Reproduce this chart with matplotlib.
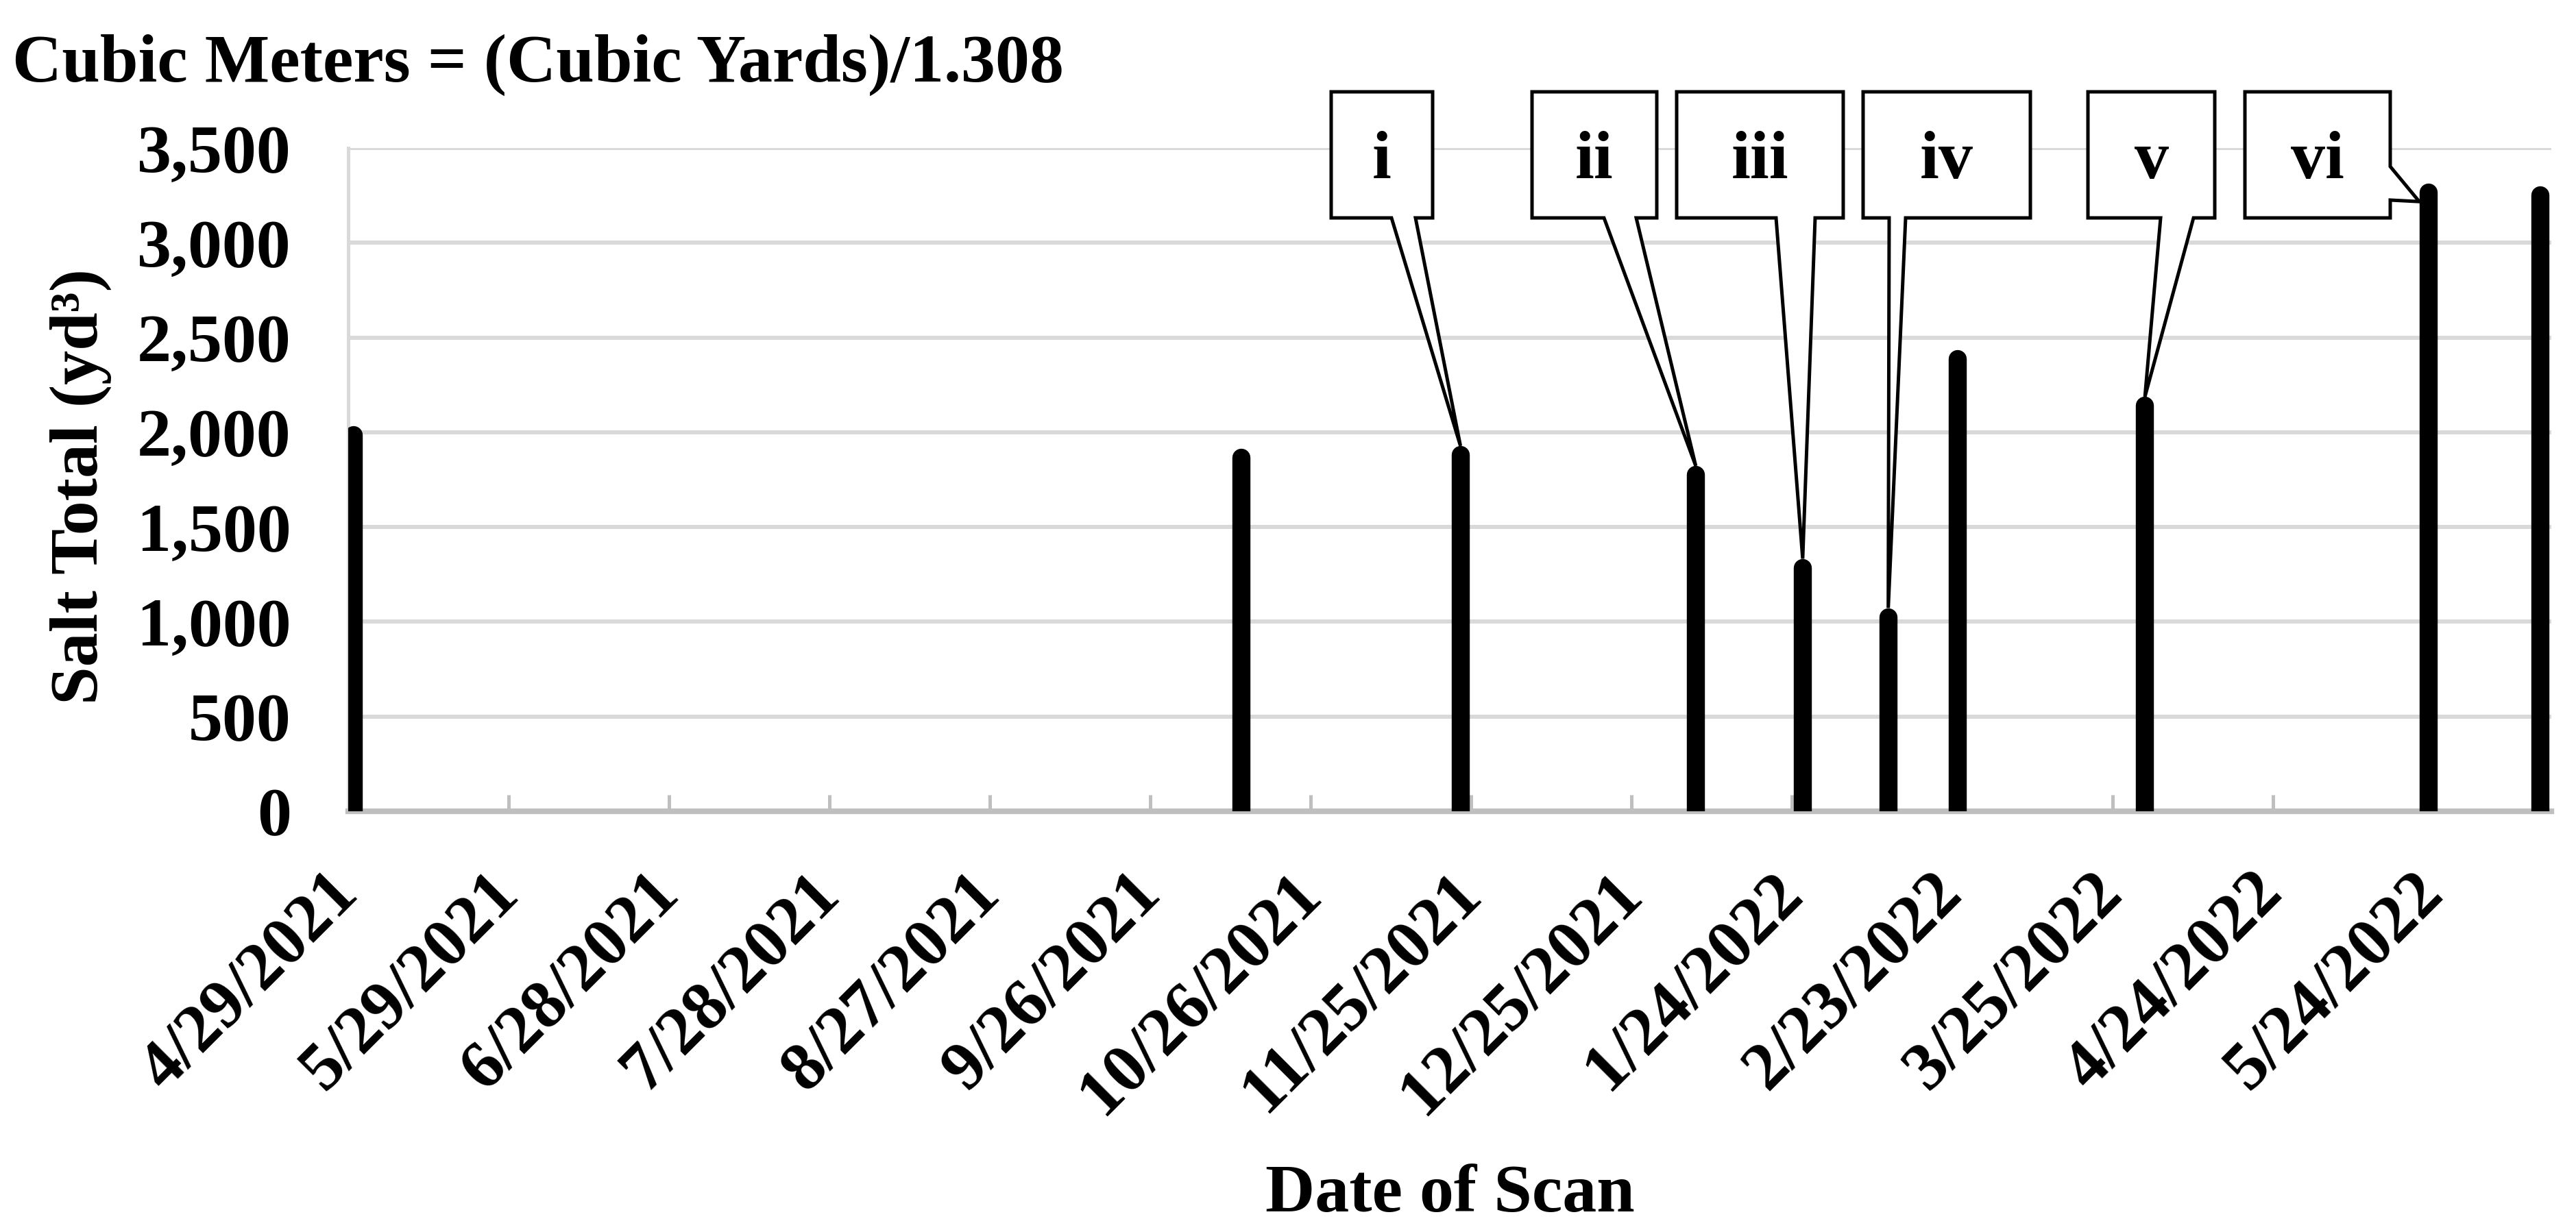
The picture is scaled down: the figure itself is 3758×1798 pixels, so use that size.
import datetime as dt
import matplotlib
matplotlib.use("Agg")
import matplotlib.pyplot as plt
import matplotlib.dates as mdates
from matplotlib.patches import Polygon
from matplotlib.transforms import IdentityTransform

plt.rcParams['font.family'] = ['Liberation Serif', 'DejaVu Serif']
plt.rcParams['font.weight'] = 'bold'

# data
scan_dates = ["2021-04-30", "2021-10-13", "2021-11-23", "2022-01-06", "2022-01-26",
              "2022-02-11", "2022-02-24", "2022-03-31", "2022-05-23", "2022-06-13"]
salt_yd3 = [1985, 1865, 1880, 1775, 1285, 1025, 2385, 2140, 3265, 3250]

tick_dates = ["2021-04-29", "2021-05-29", "2021-06-28", "2021-07-28", "2021-08-27",
              "2021-09-26", "2021-10-26", "2021-11-25", "2021-12-25", "2022-01-24",
              "2022-02-23", "2022-03-25", "2022-04-24", "2022-05-24"]
tick_labels = ["4/29/2021", "5/29/2021", "6/28/2021", "7/28/2021", "8/27/2021",
               "9/26/2021", "10/26/2021", "11/25/2021", "12/25/2021", "1/24/2022",
               "2/23/2022", "3/25/2022", "4/24/2022", "5/24/2022"]
y_ticks = [0, 500, 1000, 1500, 2000, 2500, 3000, 3500]

callout_labels = ["i", "ii", "iii", "iv", "v", "vi"]
callout_targets = ["2021-11-23", "2022-01-06", "2022-01-26", "2022-02-11",
                   "2022-03-31", "2022-05-23"]

# callout box layout, pixels from the top-left corner
box_x = [(1942, 2090), (2235, 2417), (2446, 2689), (2718, 2962), (3046, 3231), (3275, 3487)]
box_y = (134, 318)
wedge_base = [(2030, 2065), (2340, 2387), (2591, 2648), (2756, 2780), (3152, 3200), (243, 292)]
wedge_side = ["bottom", "bottom", "bottom", "bottom", "bottom", "right"]

W, H, DPI = 3758, 1798, 100
FS = 72
BAR_LW = 19

to_date = lambda s: dt.datetime.strptime(s, "%Y-%m-%d")

fig = plt.figure(figsize=(W / DPI, H / DPI), dpi=DPI)
ax = fig.add_axes([508 / W, (H - 1184) / H, (3722 - 508) / W, (1184 - 216) / H])

x = [to_date(d) for d in scan_dates]
bars = ax.vlines(x, 0, salt_yd3, colors='black', linewidth=BAR_LW, zorder=3)
bars.set_capstyle('round')

ax.set_xlim(to_date("2021-04-29"), to_date("2022-06-15"))
ax.set_ylim(0, 3500)
ax.set_yticks(y_ticks)
ax.set_yticklabels([f"{v:,}" for v in y_ticks])
ax.set_xticks([to_date(d) for d in tick_dates])
ax.set_xticklabels(tick_labels)

ax.yaxis.grid(True, color='#d9d9d9', linewidth=4.3)
ax.set_axisbelow(True)
for s in ['top', 'right']:
    ax.spines[s].set_visible(False)
ax.spines['left'].set_color('#d9d9d9')
ax.spines['left'].set_linewidth(3.6)
ax.spines['bottom'].set_color('#bfbfbf')
ax.spines['bottom'].set_linewidth(6)

ax.tick_params(axis='y', length=0, pad=60, labelsize=FS)
ax.tick_params(axis='x', direction='in', length=17, width=3.6, color='#bfbfbf',
               pad=76, labelsize=FS)
plt.setp(ax.get_xticklabels(), rotation=45, ha='right', va='center',
         rotation_mode='anchor')

ax.set_ylabel("Salt Total (yd³)", fontsize=FS, fontweight='bold', va='center')
ax.yaxis.set_label_coords(-0.1213, 0.49)
ax.set_xlabel("Date of Scan", fontsize=FS, fontweight='bold', va='baseline')
ax.xaxis.set_label_coords(0.5, -0.603)

fig.text(18 / W, (H - 119) / H, "Cubic Meters = (Cubic Yards)/1.308",
         fontsize=FS, fontweight='bold', ha='left', va='baseline')

# callouts: box + wedge drawn as one outline, tip taken from the data
lookup = dict(zip(scan_dates, salt_yd3))
cap_px = BAR_LW * DPI / 72 / 2
for lab, tgt, (x0, x1), base, side in zip(callout_labels, callout_targets,
                                          box_x, wedge_base, wedge_side):
    tx, ty = ax.transData.transform((mdates.date2num(to_date(tgt)), lookup[tgt]))
    top, bot = H - box_y[0], H - box_y[1]
    if side == "bottom":
        tip = (tx, ty + cap_px)
        verts = [(x0, top), (x1, top), (x1, bot), (base[1], bot), tip,
                 (base[0], bot), (x0, bot)]
    else:
        tip = (tx - cap_px, ty - cap_px)
        verts = [(x0, top), (x1, top), (x1, H - base[0]), tip, (x1, H - base[1]),
                 (x1, bot), (x0, bot)]
    poly = Polygon(verts, closed=True, facecolor='white', edgecolor='black',
                   linewidth=3.6, joinstyle='miter', transform=IdentityTransform(),
                   zorder=5)
    fig.add_artist(poly)
    fig.text((x0 + x1) / 2, H - 260, lab, fontsize=FS, fontweight='bold',
             ha='center', va='baseline', transform=IdentityTransform(), zorder=6)

fig.savefig("out.png", dpi=DPI)
